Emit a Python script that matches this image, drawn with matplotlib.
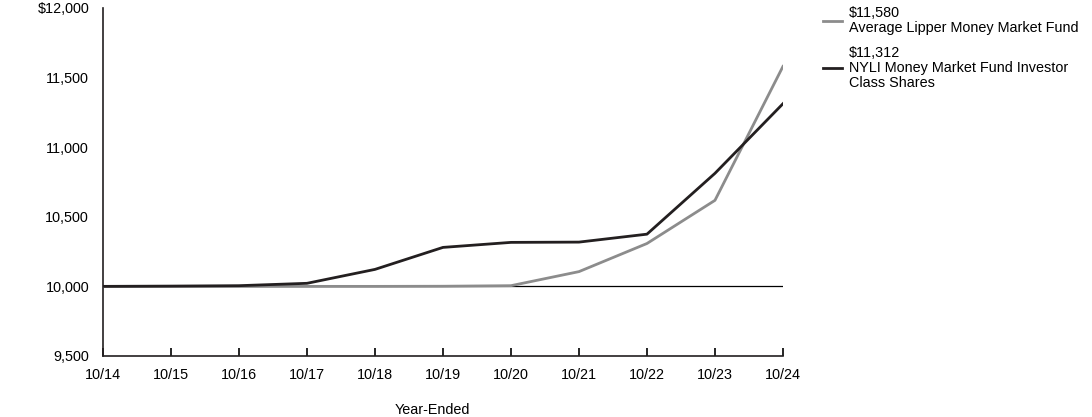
import matplotlib.pyplot as plt
from matplotlib.ticker import FixedLocator, FuncFormatter

plt.rcParams["font.family"] = ["Liberation Sans", "DejaVu Sans"]

years = ["10/14", "10/15", "10/16", "10/17", "10/18", "10/19",
         "10/20", "10/21", "10/22", "10/23", "10/24"]
nyli = [10000, 10002, 10005, 10022, 10122, 10280, 10316, 10318, 10375, 10812, 11312]
lipper = [10000, 10000, 10000, 10000, 10000, 10001, 10005, 10106, 10308, 10618, 11580]

labels = ["$11,580\nAverage Lipper Money Market Fund",
          "$11,312\nNYLI Money Market Fund Investor\nClass Shares"]

fig = plt.figure(figsize=(10.92, 4.17), dpi=100)
ax = fig.add_axes([0.0943, 0.1463, 0.6227, 0.8347])

x = range(len(years))
ax.plot(x, lipper, color="#8c8c8c", lw=2, label=labels[0], zorder=3)
ax.plot(x, nyli, color="#231f20", lw=2, label=labels[1], zorder=4)
ax.axhline(10000, color="black", lw=0.9, zorder=2)

ax.set_xlim(0, len(years) - 1)
ax.set_ylim(9500, 12000)
ax.set_xticks(list(x))
ax.set_xticklabels(years)
ax.set_yticks([9500, 10000, 10500, 11000, 11500, 12000])
ax.yaxis.set_major_formatter(FuncFormatter(
    lambda v, _: f"${v:,.0f}" if v == 12000 else f"{v:,.0f}"))
ax.yaxis.set_minor_locator(FixedLocator([12000]))
ax.tick_params(axis="y", which="major", length=0, pad=10, labelsize=10.4)
ax.tick_params(axis="y", which="minor", length=17, width=1.2, direction="in")
ax.tick_params(axis="x", length=6, width=1.2, direction="in", pad=9, labelsize=10.4)

for s in ("top", "right"):
    ax.spines[s].set_visible(False)
for s in ("left", "bottom"):
    ax.spines[s].set_linewidth(1.2)
    ax.spines[s].set_color("#231f20")

ax.set_xlabel("Year-Ended", fontsize=10.4)
ax.xaxis.set_label_coords(0.484, -0.135)

leg = ax.legend(loc="upper left", bbox_to_anchor=(1.04, 1.042), frameon=False,
                fontsize=10.4, handlelength=1.3, handletextpad=0.5, labelspacing=0.8)
for t in leg.get_texts():
    t.set_linespacing(1.05)

fig.savefig("out.png", dpi=100)
